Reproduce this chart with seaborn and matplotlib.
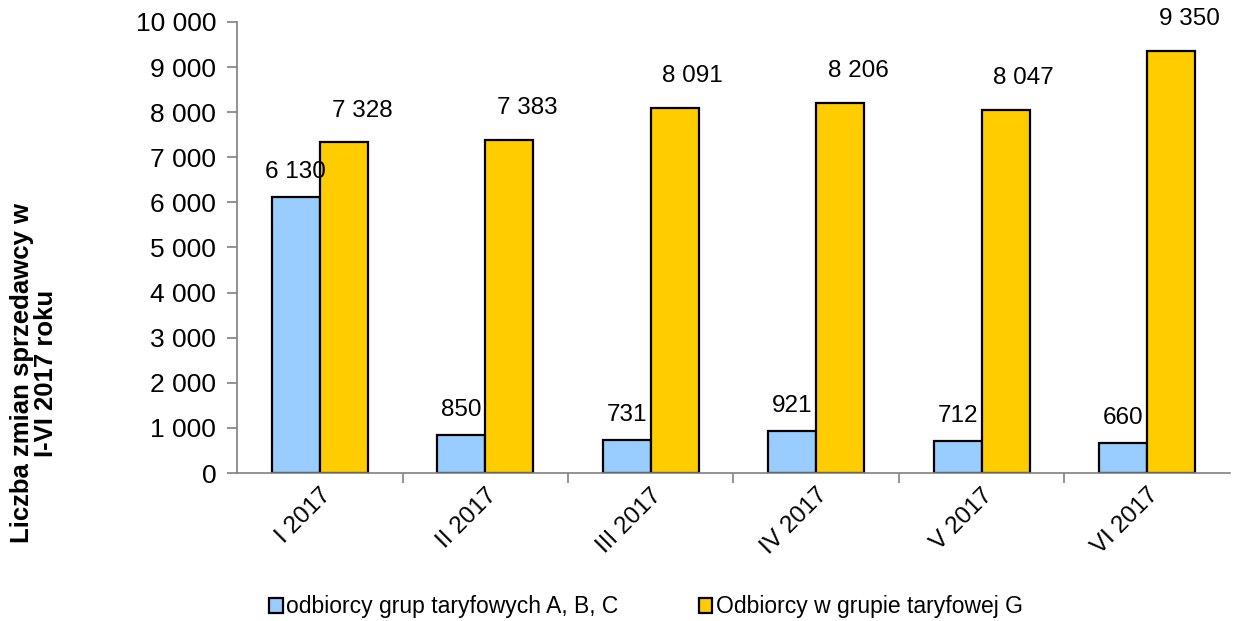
import seaborn as sns
import matplotlib.pyplot as plt
import matplotlib.ticker as mticker
import pandas as pd
import numpy as np

months = ["I 2017", "II 2017", "III 2017", "IV 2017", "V 2017", "VI 2017"]
group_abc = [6130, 850, 731, 921, 712, 660]
group_g = [7328, 7383, 8091, 8206, 8047, 9350]
series_names = ["odbiorcy grup taryfowych A, B, C", "Odbiorcy w grupie taryfowej G"]
colors = ["#99CCFF", "#FFCC00"]

df = pd.DataFrame({
    "month": months * 2,
    "group": [series_names[0]] * len(months) + [series_names[1]] * len(months),
    "value": group_abc + group_g,
})

sns.set_style("white")
plt.rcParams["font.family"] = ["Liberation Sans", "DejaVu Sans"]
plt.rcParams["text.color"] = "black"
plt.rcParams["xtick.color"] = "black"
plt.rcParams["ytick.color"] = "black"

fig = plt.figure(figsize=(12.43, 6.21), dpi=100)
ax = fig.add_axes([0.1907, 0.2383, 0.7988, 0.7263])

sns.barplot(data=df, x="month", y="value", hue="group", palette=colors,
            width=0.58, gap=0, edgecolor="black", linewidth=1.6,
            saturation=1, ax=ax)

def fmt(v):
    return f"{int(v):,}".replace(",", " ")

# value labels
for bar, v in zip(ax.containers[0], group_abc):
    ax.annotate(fmt(v), (bar.get_x() + bar.get_width() / 2, bar.get_height()),
                xytext=(0, 18), textcoords="offset points",
                ha="center", va="center", fontsize=17.5)
for bar, v in zip(ax.containers[1], group_g):
    ax.annotate(fmt(v), (bar.get_x() + bar.get_width() / 2, bar.get_height()),
                xytext=(13, 23), textcoords="offset points",
                ha="center", va="center", fontsize=17.5)

ax.set_ylim(0, 10000)
ax.set_xlim(-0.5, len(months) - 0.5)
ax.yaxis.set_major_locator(mticker.MultipleLocator(1000))
ax.yaxis.set_major_formatter(mticker.FuncFormatter(lambda v, p: fmt(v)))
ax.tick_params(axis="y", labelsize=19, length=7, width=1.2, color="#808080",
               labelcolor="black", left=True, direction="out", pad=8)

ax.set_xticks(range(len(months)))
ax.set_xticklabels(months, rotation=45, ha="right", rotation_mode="anchor", fontsize=17.5)
ax.set_xticks(np.arange(0.5, len(months) - 0.5, 1), minor=True)
ax.tick_params(axis="x", which="major", length=0, pad=8, labelcolor="black")
ax.tick_params(axis="x", which="minor", length=7, width=1.2, color="#808080",
               bottom=True, direction="out")

for s in ["top", "right"]:
    ax.spines[s].set_visible(False)
for s in ["left", "bottom"]:
    ax.spines[s].set_color("#808080")
    ax.spines[s].set_linewidth(1.2)

ax.set_xlabel("")
ax.set_ylabel("")
fig.text(34 / 1243, 1 - 373 / 621, "Liczba zmian sprzedawcy w\nI-VI 2017 roku",
         rotation=90, ha="center", va="center", multialignment="center",
         fontsize=18.5, fontweight="bold", linespacing=1.05)

handles, labels = ax.get_legend_handles_labels()
ax.get_legend().remove()
fig.legend(handles, labels, loc="center", bbox_to_anchor=(646 / 1243, 1 - 607 / 621),
           ncol=2, frameon=False, fontsize=16.5, handlelength=0.6, handleheight=0.6,
           handletextpad=0.15, columnspacing=3.5, borderpad=0)

fig.savefig("out.png", dpi=100)
